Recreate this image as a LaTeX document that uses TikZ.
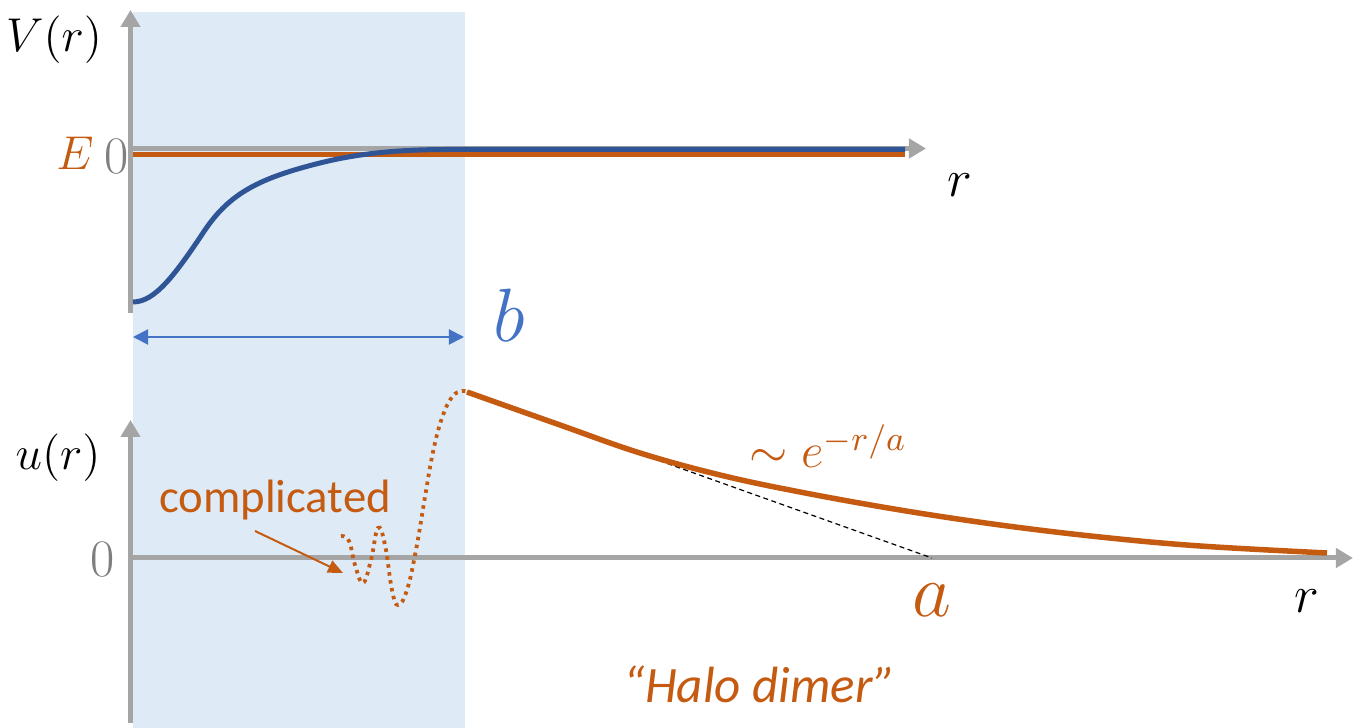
\RequirePackage{fix-cm}
\documentclass[tikz,border=0pt]{standalone}
\usepackage{fontspec}
\newfontfamily\calib{Carlito}
\usetikzlibrary{arrows.meta}
\definecolor{axgray}{HTML}{A5A5A5}
\definecolor{zerogray}{HTML}{7F7F7F}
\definecolor{orng}{HTML}{C55A11}
\definecolor{dblue}{HTML}{2F5597}
\definecolor{mblue}{HTML}{4472C4}
\definecolor{shadeblue}{HTML}{DEEBF7}
\begin{document}
\begin{tikzpicture}[x=0.01cm,y=-0.01cm,
  axis/.style={draw=axgray, line width=0.05cm, -{Triangle[length=0.17cm,width=0.19cm]}},
  mathlbl/.style={anchor=base, inner sep=0pt, font=\fontsize{13.5}{16}\selectfont},
  zerolbl/.style={anchor=base, inner sep=0pt, text=zerogray, font=\fontsize{15}{18}\selectfont},
  rlbl/.style={anchor=base, inner sep=0pt, font=\fontsize{15}{18}\selectfont},
  biglbl/.style={anchor=base, inner sep=0pt, font=\fontsize{21.5}{26}\selectfont},
  orngline/.style={draw=orng, line width=0.055cm},
]
\useasboundingbox (0,0) rectangle (1353,728);
% shaded region
\fill[shadeblue] (133,12) rectangle (465,728);

% ---------- top panel ----------
\coordinate (v1o) at (130.5,313);
\coordinate (v1t) at (130.5,10);
\coordinate (h1o) at (128,148.5);
\coordinate (h1t) at (926,148.5);
\draw[axis] (v1o) -- (v1t);
\draw[axis] (h1o) -- (h1t);

\coordinate (e1) at (133,154.5);
\coordinate (e2) at (905,154.5);
\draw[orngline, line width=0.05cm] (e1) -- (e2);

\coordinate (vs) at (133,302);
\coordinate (ve) at (905,149.5);
\draw[draw=dblue, line width=0.05cm] (vs) .. controls (155,302) and (175,275) .. (205,230)
  .. controls (230,193) and (260,178) .. (320,163)
  .. controls (360,153) and (400,149.5) .. (450,149.5) -- (ve);

\node[mathlbl] (Vr) at (54,52) {$V(r)$};
\node[mathlbl, text=orng] (E) at (75,170) {$E$};
\node[zerolbl] (z1) at (117,174) {0};
\node[rlbl] (r1) at (960,197) {$r$};

% b range arrow
\coordinate (b1) at (133,337);
\coordinate (b2) at (464,337);
\draw[draw=mblue, line width=0.02cm, {Triangle[length=0.15cm,width=0.15cm]}-{Triangle[length=0.15cm,width=0.15cm]}] (b1) -- (b2);
\node[biglbl, text=mblue] (b) at (509,342) {$b$};

% ---------- bottom panel ----------
\coordinate (v2o) at (130.5,723);
\coordinate (v2t) at (130.5,420);
\coordinate (h2o) at (128,558);
\coordinate (h2t) at (1353,558);
\draw[axis] (v2o) -- (v2t);
\draw[axis] (h2o) -- (h2t);

\node[mathlbl] (ur) at (58,470) {$u(r)$};
\node[zerolbl] (z2) at (103,577) {0};
\node[rlbl] (r2) at (1307,613) {$r$};

% dotted inner wave function
\draw[draw=orng, line width=0.038cm, dash pattern=on 0.035cm off 0.045cm]
  plot[smooth, tension=0.7] coordinates {(341,536) (349,541) (355,565) (363,583) (371,560) (378,528)
  (385,545) (392,590) (398,605) (407,590) (416,550) (425,497) (433,452) (442,418) (452,397) (462,391) (467,392)};

% tangent line
\coordinate (t1) at (467,392);
\coordinate (t2) at (932,558);
\draw[black, line width=0.012cm, dash pattern=on 0.05cm off 0.035cm] (t1) -- (t2);

% exponential tail
\draw[orngline] plot[smooth, tension=0.6] coordinates {(467,392) (560,425) (640,453) (720,475) (800,492)
  (900,510) (1000,525) (1100,537) (1200,546) (1327,553)};

\node[anchor=base, inner sep=0pt, text=orng, font=\fontsize{14}{17}\selectfont] (ex) at (828,468) {$\sim e^{-r/a}$};
\node[biglbl, text=orng] (a) at (932,617) {$a$};

% complicated label and arrow
\node[anchor=base, inner sep=0pt, text=orng, font=\calib\fontsize{13.3}{16}\selectfont] (comp) at (275,513) {complicated};
\coordinate (cs) at (255,531);
\coordinate (ct) at (343,573);
\draw[draw=orng, line width=0.02cm, -{Triangle[length=0.15cm,width=0.13cm]}] (cs) -- (ct);

\node[anchor=base, inner sep=0pt, text=orng, font=\calib\itshape\fontsize{14.5}{17}\selectfont] (halo) at (760,703) {“Halo dimer”};
\end{tikzpicture}
\end{document}
